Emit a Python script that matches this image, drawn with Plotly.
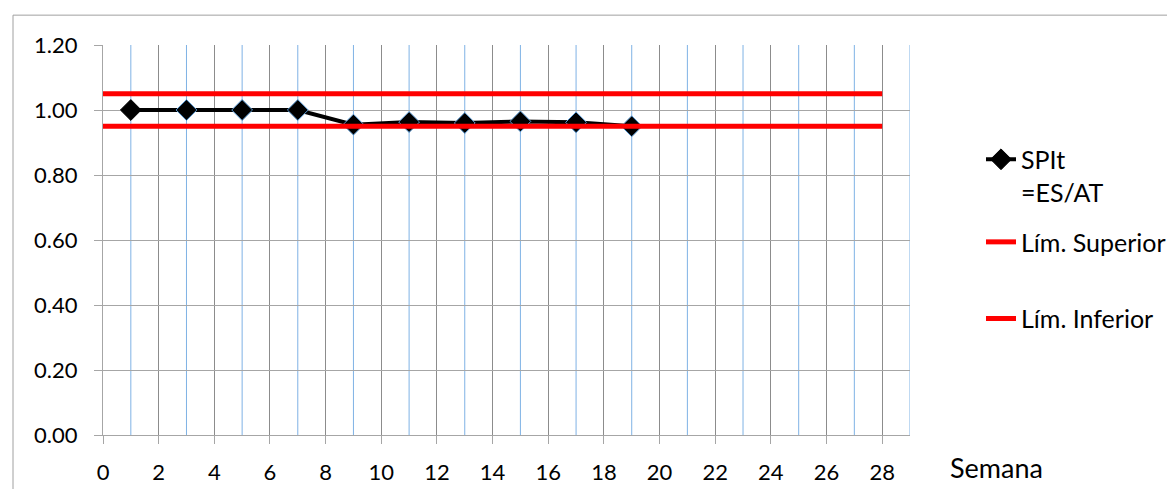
import plotly.graph_objects as go

# Data
semanas = [1, 3, 5, 7, 9, 11, 13, 15, 17, 19]
spit = [1.00, 1.00, 1.00, 1.00, 0.955, 0.963, 0.960, 0.965, 0.962, 0.950]
lim_x = [0, 28]
lim_sup = [1.05, 1.05]
lim_inf = [0.95, 0.95]
x_ticks = list(range(0, 29, 2))
odd_grid = list(range(1, 30, 2))

FONT = "Lato"
W, H = 1175, 489
L, R, T, B = 95, 273, 37, 60
pw = W - L - R
ph = H - T - B

# first marker has no blue edge in the original
edge_colors = ["black"] + ["#5B9BD5"] * (len(semanas) - 1)

fig = go.Figure()
fig.add_trace(go.Scatter(
    x=semanas, y=spit, name="SPIt<br>=ES/AT", mode="lines+markers",
    line=dict(color="black", width=4),
    marker=dict(symbol="diamond", size=16, color="black",
                line=dict(color=edge_colors, width=1)),
    legend="legend"))
fig.add_trace(go.Scatter(
    x=lim_x, y=lim_sup, name="Lím. Superior", mode="lines",
    line=dict(color="#FF0000", width=5), legend="legend2"))
fig.add_trace(go.Scatter(
    x=lim_x, y=lim_inf, name="Lím. Inferior", mode="lines",
    line=dict(color="#FF0000", width=5), legend="legend3"))

def leg(top_px):
    return dict(x=(973 - L) / pw, y=(429 - top_px) / ph, xanchor="left", yanchor="top",
                font=dict(family=FONT, size=25, color="black"), valign="top",
                bgcolor="rgba(0,0,0,0)", itemwidth=30)

fig.update_layout(
    width=W, height=H,
    margin=dict(l=L, r=R, t=T, b=B),
    paper_bgcolor="white", plot_bgcolor="white",
    font=dict(family=FONT, size=22, color="black"),
    showlegend=True,
    legend=leg(129), legend2=leg(212), legend3=leg(289),
    xaxis=dict(range=[0, 29], tickvals=x_ticks, showgrid=True, gridcolor="#8C8C8C",
               gridwidth=1.3, showline=True, linecolor="#A6A6A6", linewidth=1,
               ticks="outside", ticklen=8, tickcolor="#A6A6A6", zeroline=False,
               ticklabelstandoff=10, tickfont=dict(family=FONT, size=22)),
    yaxis=dict(range=[0, 1.2], tick0=0, dtick=0.2, tickformat=".2f", showgrid=True,
               gridcolor="#A6A6A6", gridwidth=1, showline=True, linecolor="#A6A6A6",
               linewidth=1, ticks="outside", ticklen=8, tickcolor="#A6A6A6",
               zeroline=False, ticklabelstandoff=12, tickfont=dict(family=FONT, size=22)),
)

# Blue vertical gridlines at odd weeks (secondary grid)
for gx in odd_grid:
    fig.add_shape(type="line", xref="x", yref="y domain", x0=gx, x1=gx, y0=0, y1=1,
                  line=dict(color="#7FB2E5", width=1), layer="below")

# Axis title "Semana" placed to the right of the tick labels
fig.add_annotation(text="Semana", xref="paper", yref="paper",
                   x=(940 - L) / pw, y=0, xanchor="left", yanchor="top", yshift=-14,
                   showarrow=False, font=dict(family=FONT, size=27))

# Chart area border
fig.add_shape(type="rect", xref="paper", yref="paper",
              x0=(5 - L) / pw, x1=(1300 - L) / pw,
              y0=(429 - 600) / ph, y1=(429 - 7) / ph,
              line=dict(color="#A0A0A0", width=1), fillcolor="rgba(0,0,0,0)", layer="below")

fig.write_html("out.html")
